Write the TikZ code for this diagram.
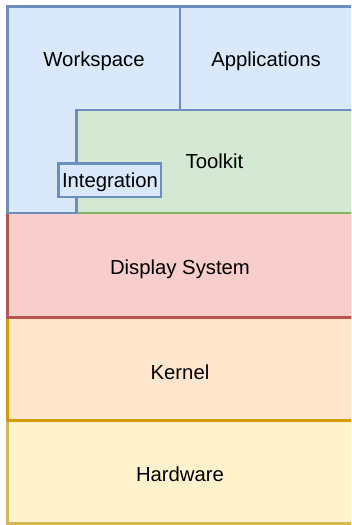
\documentclass[tikz,border=0pt]{standalone}
\usepackage{fontspec}
\setmainfont{Liberation Sans}
\definecolor{blueFill}{HTML}{DAE8FC}
\definecolor{blueLine}{HTML}{6C8EBF}
\definecolor{greenFill}{HTML}{D5E8D4}
\definecolor{greenLine}{HTML}{82B366}
\definecolor{redFill}{HTML}{F8CECC}
\definecolor{redLine}{HTML}{B85450}
\definecolor{orangeFill}{HTML}{FFE6CC}
\definecolor{orangeLine}{HTML}{D79B00}
\definecolor{yellowFill}{HTML}{FFF2CC}
\definecolor{yellowLine}{HTML}{D6B656}
\begin{document}
\begin{tikzpicture}[x=1pt,y=-1pt,
  layer/.style={line width=2.6pt},
  lbl/.style={anchor=base,inner sep=0pt,font=\fontsize{20.3}{24}\selectfont}]
\useasboundingbox (0,0) rectangle (351,525);
\clip (0,0) rectangle (351,525);
% stacked layers, bottom to top
\draw[layer,fill=yellowFill,draw=yellowLine] (7.5,420.7) rectangle (362,523.5);
\draw[layer,fill=orangeFill,draw=orangeLine] (7.5,317.5) rectangle (362,420.7);
\draw[layer,fill=redFill,draw=redLine] (7.5,213) rectangle (362,317.5);
\draw[layer,fill=greenFill,draw=greenLine] (76.5,110) rectangle (362,213);
\draw[layer,fill=blueFill,draw=blueLine] (180,6.5) rectangle (362,110);
% L-shaped workspace area
\draw[layer,fill=blueFill,draw=blueLine,line join=miter]
  (7.5,6.5) -- (180,6.5) -- (180,110) -- (76.5,110) -- (76.5,213) -- (7.5,213) -- cycle;
% integration tab bridging workspace and toolkit
\draw[layer,fill=blueFill,draw=blueLine] (58.7,163.5) rectangle (161,196.8);
% labels
\node[lbl] (ws) at (94,66.5) {Workspace};
\node[lbl] (apps) at (266,66.7) {Applications};
\node[lbl] (tk) at (214.5,168.3) {Toolkit};
\node[lbl] (integ) at (110,187.3) {Integration};
\node[lbl] (disp) at (180,274.5) {Display System};
\node[lbl] (kern) at (180,379) {Kernel};
\node[lbl] (hw) at (180,481.7) {Hardware};
\end{tikzpicture}
\end{document}
